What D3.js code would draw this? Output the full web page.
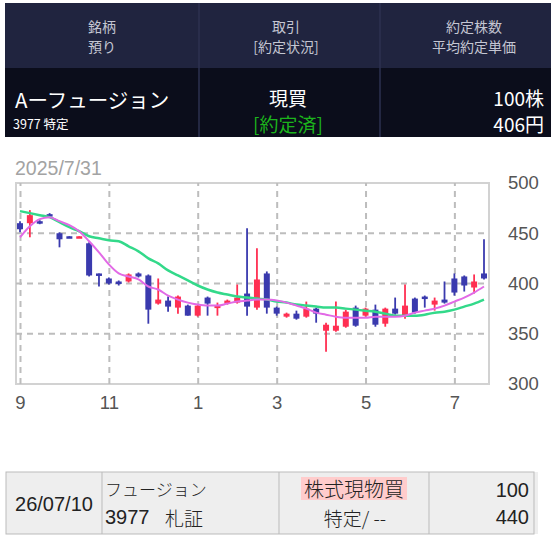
<!DOCTYPE html>
<html><head><meta charset="utf-8">
<script src="https://cdn.jsdelivr.net/npm/d3@7"></script>
<style>
html,body{margin:0;padding:0;background:#fff;}
svg{display:block;font-family:"Liberation Sans","Noto Sans CJK JP",sans-serif;}
</style></head>
<body><svg id="c" width="551" height="538"></svg>
<script>
// ---- data ----
const weeks = ["2024-09-02","2024-09-09","2024-09-16","2024-09-23","2024-09-30","2024-10-07","2024-10-14","2024-10-21","2024-10-28",
"2024-11-04","2024-11-11","2024-11-18","2024-11-25","2024-12-02","2024-12-09","2024-12-16","2024-12-23","2024-12-30",
"2025-01-06","2025-01-13","2025-01-20","2025-01-27","2025-02-03","2025-02-10","2025-02-17","2025-02-24",
"2025-03-03","2025-03-10","2025-03-17","2025-03-24","2025-03-31","2025-04-07","2025-04-14","2025-04-21","2025-04-28",
"2025-05-05","2025-05-12","2025-05-19","2025-05-26","2025-06-02","2025-06-09","2025-06-16","2025-06-23","2025-06-30",
"2025-07-07","2025-07-14","2025-07-21","2025-07-28"];
const open  = [460,460,462,469,450,447,446,440,410,405,402,402,410,408,380,383,376,378,368,386,377,380,381,390,376,410,376,367,370,367,375,353,353,357,376,368,374,360,375,367,385,387,379,384,405,407,396,410];
const high  = [462,473,463,470,451,447,447,441,410,406,403,410,411,409,405,387,388,379,379,387,381,384,399,455,435,412,377,371,373,382,376,361,382,374,378,376,379,376,386,399,386,388,386,402,410,408,409,444];
const low   = [451,446,459,467,436,446,446,407,397,399,398,401,406,360,379,372,370,368,367,368,368,379,380,368,374,370,368,366,364,366,361,332,352,356,357,367,357,357,369,365,370,376,373,380,388,392,390,404];
const close = [454,468,460,467,444,446,447,408,408,400,400,409,407,374,384,377,387,368,378,380,378,383,386,377,404,376,370,370,365,375,370,359,358,372,358,375,359,375,370,378,371,385,383,381,391,398,402,405];
const maShort = [446,457,464,466,462,458,452,442,431,419,410,407,404,397,394,388,384,381,379,378,378,380,382,383,384,384,383,381,378,375,371,369,367,366,366,366,367,367,367,368,371,373,375,378,382,386,391,397];
const maLong  = [472,470,468,466,461,456,452,447,445,443,442,437,432,425,420,413,408,403,398,394,391,389,387,386,385,384,382,381,379,378,377,376,376,375,374,373,372,370,368,368,368,369,371,372,374,377,380,384];
const yTicks = [300,350,400,450,500];
const xTickDates  = ["2024-09-02","2024-11-04","2025-01-06","2025-03-03","2025-05-05","2025-07-07"];
const xTickLabels = ["9","11","1","3","5","7"];
const chartDate = "2025/7/31";

const svg = d3.select("#c");
const JP = '"Noto Sans CJK JP","Liberation Sans",sans-serif';

// ---- header table ----
const hdr = svg.append("g");
hdr.append("rect").attr("x",5).attr("y",3).attr("width",546).attr("height",65).attr("fill","#20243f");
hdr.append("rect").attr("x",5).attr("y",68).attr("width",546).attr("height",69).attr("fill","#0b0d1b");
[199,380].forEach(x=>hdr.append("line").attr("x1",x).attr("x2",x).attr("y1",3).attr("y2",137).attr("stroke","#2c3050").attr("stroke-width",1.5));
const htxt = (t,x,y,opts)=>hdr.append("text").text(t).attr("x",x).attr("y",y)
  .attr("text-anchor",opts.anchor||"middle").attr("dominant-baseline","central")
  .attr("font-size",opts.size).attr("fill",opts.fill).attr("font-family",opts.font||JP);
htxt("銘柄",102,26,{size:14,fill:"#c4c6d2"});
htxt("預り",102,46,{size:14,fill:"#c4c6d2"});
htxt("取引",286,26,{size:14,fill:"#c4c6d2"});
htxt("[約定状況]",286,46,{size:14,fill:"#c4c6d2"});
htxt("約定株数",474,26,{size:14,fill:"#c4c6d2"});
htxt("平均約定単価",474,46,{size:14,fill:"#c4c6d2"});
htxt("Aーフュージョン",15,99,{size:20.5,fill:"#ffffff",anchor:"start"});
htxt("3977 特定",13,123,{size:12.5,fill:"#ffffff",anchor:"start"});
htxt("現買",288,97,{size:19,fill:"#ffffff"});
htxt("[約定済]",288,123,{size:19,fill:"#1cb31c"});
htxt("100株",544,97,{size:19,fill:"#ffffff",anchor:"end"});
htxt("406円",544,123,{size:19,fill:"#ffffff",anchor:"end"});

// ---- chart ----
const L=16,R=489,T=183,B=384;
const x = d3.scalePoint().domain(weeks).range([20,484]);
const y = d3.scaleLinear().domain([300,500]).range([B,T]);

svg.append("text").text(chartDate).attr("x",15).attr("y",168).attr("dominant-baseline","central")
  .attr("font-size",19.5).attr("fill","#a3a3a3");

svg.append("rect").attr("x",L).attr("y",T).attr("width",R-L).attr("height",B-T)
  .attr("fill","none").attr("stroke","#d2d2d2").attr("stroke-width",2);

// grid via axes
const gx = svg.append("g").attr("transform",`translate(0,${B})`)
  .call(d3.axisBottom(x).tickValues(xTickDates).tickSize(-(B-T)).tickPadding(8)
    .tickFormat((d,i)=>xTickLabels[i]));
gx.select(".domain").remove();
gx.selectAll(".tick line").attr("stroke","#bdbdbd").attr("stroke-width",2).attr("stroke-dasharray","6,5");
gx.selectAll(".tick text").attr("font-size",18.5).attr("fill","#555").attr("font-family","Liberation Sans").attr("dy","0.9em");

const gy = svg.append("g").attr("transform",`translate(${R},0)`)
  .call(d3.axisRight(y).tickValues(yTicks).tickSize(0).tickPadding(19));
gy.select(".domain").remove();
gy.selectAll(".tick text").attr("font-size",18.5).attr("fill","#555").attr("font-family","Liberation Sans");
const gg = svg.append("g");
gg.selectAll("line").data(yTicks.filter(v=>v>300&&v<500)).join("line")
  .attr("x1",L).attr("x2",R).attr("y1",d=>y(d)).attr("y2",d=>y(d))
  .attr("stroke","#bdbdbd").attr("stroke-width",2).attr("stroke-dasharray","6,5");

// candles
const data = weeks.map((w,i)=>({w,o:open[i],h:high[i],l:low[i],c:close[i]}));
const col = d=> d.c>=d.o ? "#ff2f52" : "#3a3aae";
const cg = svg.append("g");
cg.selectAll("line").data(data).join("line")
  .attr("x1",d=>x(d.w)).attr("x2",d=>x(d.w)).attr("y1",d=>y(d.h)).attr("y2",d=>y(d.l))
  .attr("stroke",col).attr("stroke-width",1.8);
cg.selectAll("rect").data(data).join("rect")
  .attr("x",d=>x(d.w)-3).attr("width",6)
  .attr("y",d=>y(Math.max(d.o,d.c))).attr("height",d=>Math.max(2.5,Math.abs(y(d.o)-y(d.c))))
  .attr("fill",col);

// moving averages
const line = d3.line().x((d,i)=>x(weeks[i])).y(d=>y(d)).curve(d3.curveMonotoneX);
svg.append("path").attr("d",line(maLong)).attr("fill","none").attr("stroke","#33d98a").attr("stroke-width",2.5);
svg.append("path").attr("d",line(maShort)).attr("fill","none").attr("stroke","#e26ae6").attr("stroke-width",2);

// ---- bottom table ----
const bt = svg.append("g");
bt.append("rect").attr("x",6).attr("y",472).attr("width",532).attr("height",62).attr("fill","#eeeeee");
bt.append("rect").attr("x",6).attr("y",472).attr("width",528).attr("height",62).attr("fill","none").attr("stroke","#bbbbbb").attr("stroke-width",1);
[102,279,429].forEach(xx=>bt.append("line").attr("x1",xx).attr("x2",xx).attr("y1",472).attr("y2",534).attr("stroke","#bbbbbb"));
bt.append("rect").attr("x",301).attr("y",477).attr("width",106).attr("height",23).attr("fill","#ffcccc");
const btxt=(t,xx,yy,anchor,size,font,weight)=>bt.append("text").text(t).attr("x",xx).attr("y",yy)
  .attr("text-anchor",anchor).attr("dominant-baseline","central").attr("font-size",size)
  .attr("fill","#222").attr("font-family",font||JP).attr("font-weight",weight||400);
btxt("26/07/10",54,504,"middle",20,"Liberation Sans");
btxt("フュージョン",105,488,"start",17,JP,300);
btxt("3977",105,517,"start",20,"Liberation Sans");
btxt("札証",165,517,"start",19,JP,300);
btxt("株式現物買",354,488,"middle",20,JP,300);
btxt("特定/ --",355,517,"middle",19,JP,300);
btxt("100",529,490,"end",20,"Liberation Sans");
btxt("440",529,517,"end",20,"Liberation Sans");
</script></body></html>
